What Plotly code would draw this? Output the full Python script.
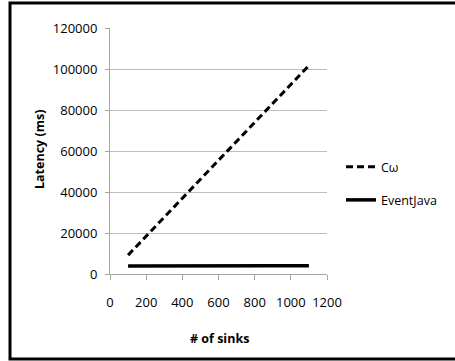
import plotly.graph_objects as go

sinks = [100, 200, 300, 400, 500, 600, 700, 800, 900, 1000, 1100]
comega = [9200, 18500, 27800, 37000, 46300, 55500, 64800, 74000, 83300, 92500, 101700]
eventjava = [3900, 3950, 4000, 4100, 4200, 4100, 4000, 3950, 4000, 4000, 4000]
x_ticks = [0, 200, 400, 600, 800, 1000, 1200]
y_ticks = [0, 20000, 40000, 60000, 80000, 100000, 120000]

W, H = 455, 361
L, R, T, B = 110, 327, 28, 274
pw, ph = R - L, B - T

fig = go.Figure()
fig.add_trace(go.Scatter(x=sinks, y=comega, mode="lines", name="Cω", legendgroup="a",
                         line=dict(color="black", width=3, dash="7px,4px")))
fig.add_trace(go.Scatter(x=sinks, y=eventjava, mode="lines", name="EventJava", legendgroup="b",
                         line=dict(color="black", width=3.5)))

def px_x(p):
    return (p - L) / pw

def px_y(p):
    return (B - p) / ph

fig.add_shape(type="rect", xref="paper", yref="paper",
              x0=px_x(10), x1=px_x(470), y0=px_y(359), y1=px_y(3),
              line=dict(color="black", width=3), fillcolor="rgba(0,0,0,0)", layer="below")

font = "Open Sans, sans-serif"
fig.add_annotation(text="<b>Latency (ms)</b>", xref="paper", yref="paper",
                   x=px_x(39), y=px_y(150), xanchor="center", yanchor="middle",
                   textangle=-90, showarrow=False, font=dict(size=12.5, color="black"))
fig.add_annotation(text="<b># of sinks</b>", xref="paper", yref="paper",
                   x=px_x(219), y=px_y(338), xanchor="center", yanchor="middle",
                   showarrow=False, font=dict(size=12.5, color="black"))

fig.update_layout(
    width=W, height=H,
    margin=dict(l=L, r=W - R, t=T, b=H - B),
    paper_bgcolor="white", plot_bgcolor="white",
    font=dict(family=font, size=13, color="black"),
    showlegend=True,
    legend=dict(x=px_x(341), y=px_y(152), xanchor="left", yanchor="top",
                font=dict(size=12.5), tracegroupgap=14, traceorder="grouped",
                bgcolor="rgba(0,0,0,0)", itemwidth=30),
    xaxis=dict(range=[0, 1200], tickvals=x_ticks, ticktext=[str(v) for v in x_ticks],
               showgrid=False, showline=True, linecolor="#a6a6a6", linewidth=1,
               ticks="outside", ticklen=5, tickcolor="#a6a6a6", zeroline=False,
               ticklabelstandoff=11,
               automargin=False, fixedrange=True),
    yaxis=dict(range=[0, 120000], tickvals=y_ticks, ticktext=[str(v) for v in y_ticks],
               showgrid=True, gridcolor="#bdbdbd", gridwidth=1,
               showline=True, linecolor="#a6a6a6", linewidth=1,
               ticks="outside", ticklen=4, tickcolor="#a6a6a6", zeroline=False,
               ticklabelstandoff=5,
               automargin=False, fixedrange=True),
)

fig.write_html("out.html")
